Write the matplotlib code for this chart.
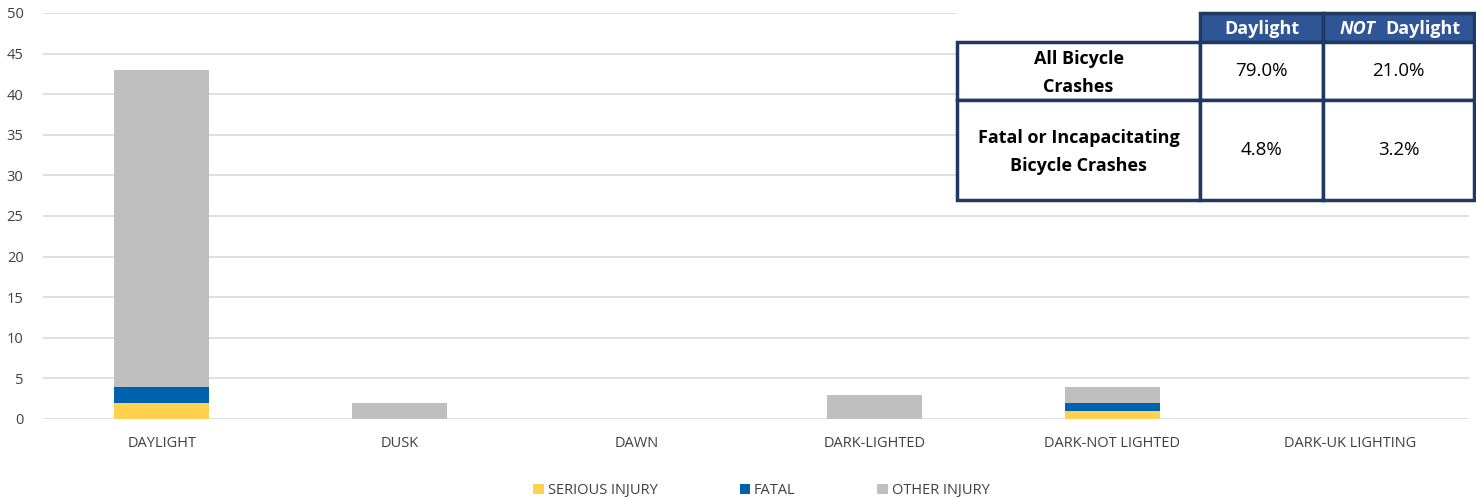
import matplotlib.pyplot as plt
from matplotlib.patches import Rectangle
import numpy as np

# Chart data
categories = ["DAYLIGHT", "DUSK", "DAWN", "DARK-LIGHTED", "DARK-NOT LIGHTED", "DARK-UK LIGHTING"]
serious = [2, 0, 0, 0, 1, 0]
fatal = [2, 0, 0, 0, 1, 0]
other = [39, 2, 0, 3, 2, 0]
series_names = ["SERIOUS INJURY", "FATAL", "OTHER INJURY"]
series_colors = ["#FFD14F", "#0062AC", "#BFBFBF"]
y_ticks = np.arange(0, 55, 5)

# Table data
table_cols = ["Daylight", "NOT Daylight"]
table_rows = ["All Bicycle\nCrashes", "Fatal or Incapacitating\nBicycle Crashes"]
table_vals = [["79.0%", "21.0%"], ["4.8%", "3.2%"]]

plt.rcParams["font.family"] = ["Open Sans", "DejaVu Sans"]

W, H = 1476, 499
fig = plt.figure(figsize=(W / 100, H / 100), dpi=100)
ax = fig.add_axes([43 / W, 1 - 419 / H, (1469 - 43) / W, (419 - 13) / H])

x = np.arange(len(categories))
bottom = np.zeros(len(categories))
for vals, name, col in zip([serious, fatal, other], series_names, series_colors):
    ax.bar(x, vals, width=0.4, bottom=bottom, color=col, label=name, zorder=2)
    bottom += np.array(vals)

ax.set_xlim(-0.5, len(categories) - 0.5)
ax.set_ylim(0, 50)
ax.set_yticks(y_ticks)
ax.set_xticks(x)
ax.set_xticklabels(categories, fontsize=10.5, color="#404040")
ax.tick_params(axis="y", labelsize=10.5, labelcolor="#404040", length=0, pad=14)
ax.tick_params(axis="x", length=0, pad=12)
ax.yaxis.grid(True, color="#D9D9D9", linewidth=1.2, zorder=0)
ax.set_axisbelow(True)
for s in ax.spines.values():
    s.set_visible(False)

# Legend
fig.legend(loc="lower center", bbox_to_anchor=(0.516, -0.025), ncol=3, frameon=False,
           fontsize=10.5, handlelength=0.7, handleheight=0.7, handletextpad=0.3,
           columnspacing=5.6, labelcolor="#404040")

# Table overlay in pixel coordinates
tab = fig.add_axes([0, 0, 1, 1], zorder=5)
tab.set_xlim(0, W)
tab.set_ylim(H, 0)
tab.axis("off")

navy = "#1F3864"
head = "#2F5597"
tab.add_patch(Rectangle((957, 0), W - 957, 202, facecolor="white", edgecolor="none"))

col_x = [957, 1200, 1323, 1474]
row_y = [13, 42, 100, 200]

# header cells
for j, name in enumerate(table_cols):
    x0, x1 = col_x[j + 1], col_x[j + 2]
    tab.add_patch(Rectangle((x0, row_y[0]), x1 - x0, row_y[1] - row_y[0],
                            facecolor=head, edgecolor=navy, linewidth=2.5))
    cx = (x0 + x1) / 2
    cy = (row_y[0] + row_y[1]) / 2 + 1
    if name.startswith("NOT"):
        tab.text(cx - 41, cy, "NOT", color="white", fontsize=13, fontweight="bold",
                 fontstyle="italic", ha="center", va="center")
        tab.text(cx + 24, cy, name[4:], color="white", fontsize=13, fontweight="bold",
                 ha="center", va="center")
    else:
        tab.text(cx, cy, name, color="white", fontsize=13, fontweight="bold",
                 ha="center", va="center")

# body cells
for i, rname in enumerate(table_rows):
    y0, y1 = row_y[i + 1], row_y[i + 2]
    cy = (y0 + y1) / 2
    for j in range(3):
        x0, x1 = col_x[j], col_x[j + 1]
        tab.add_patch(Rectangle((x0, y0), x1 - x0, y1 - y0, facecolor="white",
                                edgecolor=navy, linewidth=2.5))
    tab.text((col_x[0] + col_x[1]) / 2, cy + 2, rname, color="black", fontsize=13,
             fontweight="bold", ha="center", va="center", linespacing=1.7)
    for j, v in enumerate(table_vals[i]):
        tab.text((col_x[j + 1] + col_x[j + 2]) / 2, cy, v, color="black",
                 fontsize=13.5, ha="center", va="center")

fig.savefig("out.png", dpi=100)
